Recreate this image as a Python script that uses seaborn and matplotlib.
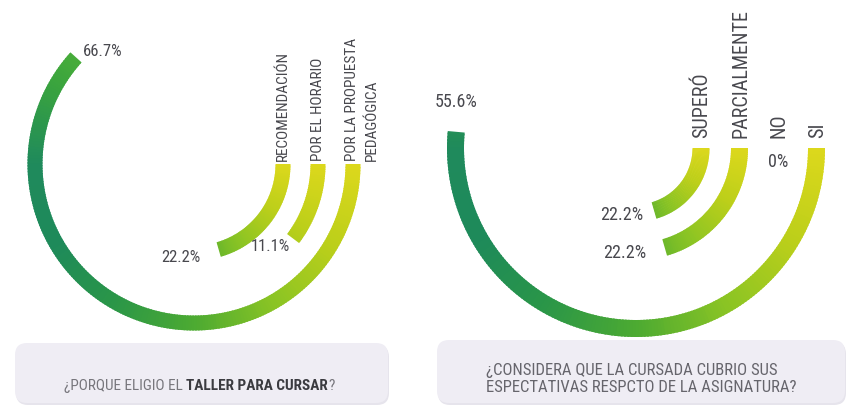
import numpy as np
import matplotlib
matplotlib.use("Agg")
import matplotlib.pyplot as plt
from matplotlib import font_manager
from matplotlib.patches import FancyBboxPatch
import seaborn as sns

# ---------------- data ----------------
left_categories = ["RECOMENDACIÓN", "POR EL HORARIO", "POR LA PROPUESTA\nPEDAGÓGICA"]
left_values = [22.2, 11.1, 66.7]
left_value_labels = ["22.2%", "11.1%", "66.7%"]
left_title_plain = "¿PORQUE ELIGIO EL "
left_title_bold = "TALLER PARA CURSAR"
left_title_end = "?"

right_categories = ["SUPERÓ", "PARCIALMENTE", "NO", "SI"]
right_values = [22.2, 22.2, 0.0, 55.6]
right_value_labels = ["22.2%", "22.2%", "0%", "55.6%"]
right_title = "¿CONSIDERA QUE LA CURSADA CUBRIO SUS\nESPECTATIVAS RESPCTO DE LA ASIGNATURA?"

# ---------------- style ----------------
sns.set_theme(style="white")
W, H = 848, 405
fig = plt.figure(figsize=(W / 100, H / 100), dpi=100)
fig.patch.set_facecolor("white")

names = {f.name for f in font_manager.fontManager.ttflist}
stretch = "normal"
if "Liberation Sans Narrow" in names:
    FONT = "Liberation Sans Narrow"; SF = 1.0
elif "Roboto Condensed" in names:
    FONT = "Roboto Condensed"; SF = 1.0
elif any(f.name == "DejaVu Sans" and "condensed" in str(f.stretch) for f in font_manager.fontManager.ttflist):
    FONT = "DejaVu Sans"; SF = 0.85; stretch = "condensed"
else:
    FONT = "DejaVu Sans"; SF = 0.75
plt.rcParams["font.family"] = [FONT, "DejaVu Sans"]

DEG_PER_PCT = 3.33
GRAD_SPAN = 240.0
grad_stops = ["#dcd81c", "#bccf1a", "#8ac424", "#4caa32", "#2a9648",
              "#1e8a5a", "#1f8a5c", "#3aa43e", "#5ab834"]
cmap = sns.blend_palette(grad_stops, as_cmap=True)

LABEL_COLOR = "#48484e"


def draw_arcs(ax, values, radii, thick):
    for v, r in zip(values, radii):
        sweep_deg = v * DEG_PER_PCT
        if sweep_deg <= 0:
            continue
        n = max(int(sweep_deg), 2)
        edges = np.linspace(0, np.deg2rad(sweep_deg), n + 1)
        w = np.diff(edges)
        w[:-1] += 0.01
        mids = np.rad2deg((edges[:-1] + edges[1:]) / 2)
        cols = cmap(np.clip(mids / GRAD_SPAN, 0, 1))
        ax.bar(edges[:-1], np.full(n, thick), width=w, bottom=r - thick / 2,
               align="edge", color=cols, edgecolor="none", linewidth=0)


def polar_axes(cx, cy, rmax):
    rect = [(cx - rmax) / W, (H - cy - rmax) / H, 2 * rmax / W, 2 * rmax / H]
    ax = fig.add_axes(rect, projection="polar")
    ax.set_theta_zero_location("E")
    ax.set_theta_direction(-1)
    ax.set_ylim(0, rmax)
    ax.set_axis_off()
    return ax


def end_theta(v):
    return np.deg2rad(v * DEG_PER_PCT)


# ---------------- left chart ----------------
axL = polar_axes(194, 164, 172)
left_radii = [89, 124, 159]
left_thick = 15
draw_arcs(axL, left_values, left_radii, left_thick)
for cat, r in zip(left_categories, left_radii):
    axL.annotate(cat, xy=(0, r - left_thick / 2), xytext=(0, 3), textcoords="offset pixels",
                 rotation=90, ha="left", va="bottom", multialignment="left",
                 fontsize=11 * SF, fontstretch=stretch, color=LABEL_COLOR, linespacing=1.5)
left_lab_pos = [((-18, -8), "right"), ((-3, -8), "right"), ((7, 6), "left")]
for v, r, lab, (off, ha) in zip(left_values, left_radii, left_value_labels, left_lab_pos):
    axL.annotate(lab, xy=(end_theta(v), r), xytext=off, textcoords="offset pixels",
                 ha=ha, va="center", fontsize=12 * SF, fontstretch=stretch, color=LABEL_COLOR)

# ---------------- right chart ----------------
axR = polar_axes(636, 148, 192)
right_radii = [65, 103.5, 142, 180.5]
right_thick = 17
draw_arcs(axR, right_values, right_radii, right_thick)
for cat, r in zip(right_categories, right_radii):
    axR.annotate(cat, xy=(0, r - right_thick / 2), xytext=(0, 10), textcoords="offset pixels",
                 rotation=90, ha="left", va="bottom",
                 fontsize=14.5 * SF, fontstretch=stretch, color=LABEL_COLOR)
right_lab_pos = [((-11, -5), "right"), ((-18, -6), "right"), ((0, -14), "center"), ((0, 30), "center")]
for v, r, lab, (off, ha) in zip(right_values, right_radii, right_value_labels, right_lab_pos):
    axR.annotate(lab, xy=(end_theta(v), r), xytext=off, textcoords="offset pixels",
                 ha=ha, va="center", fontsize=13 * SF, fontstretch=stretch, color=LABEL_COLOR)

# ---------------- title boxes ----------------
ax0 = fig.add_axes([0, 0, 1, 1], zorder=-1)
ax0.set_xlim(0, W)
ax0.set_ylim(H, 0)
ax0.set_axis_off()
for (x0, x1, y0, y1) in [(15, 388, 343, 403), (437, 845, 340, 403)]:
    ax0.add_patch(FancyBboxPatch((x0 + 1, y0 + 2), x1 - x0, y1 - y0,
                                 boxstyle="round,pad=0,rounding_size=12",
                                 facecolor="#e6e4ec", edgecolor="none"))
    ax0.add_patch(FancyBboxPatch((x0, y0), x1 - x0, y1 - y0,
                                 boxstyle="round,pad=0,rounding_size=12",
                                 facecolor="#efedf4", edgecolor="none"))

t1 = ax0.text(186, 386, left_title_plain, ha="right", va="center",
              fontsize=11 * SF, fontstretch=stretch, color="#77767c")
t2 = ax0.text(186, 386, left_title_bold, ha="left", va="center", fontweight="bold",
              fontsize=11 * SF, fontstretch=stretch, color="#3b3b40")
fig.canvas.draw()
bb = t2.get_window_extent(renderer=fig.canvas.get_renderer())
x_end = bb.x1 * 1.0  # pixels at dpi 100 == data units
ax0.text(x_end + 1, 386, left_title_end, ha="left", va="center",
         fontsize=11 * SF, fontstretch=stretch, color="#77767c")

ax0.text(486, 379, right_title, ha="left", va="center", multialignment="left",
         fontsize=12 * SF, fontstretch=stretch, color="#66656c", linespacing=1.15)

fig.savefig("out.png", dpi=100, facecolor="white")
